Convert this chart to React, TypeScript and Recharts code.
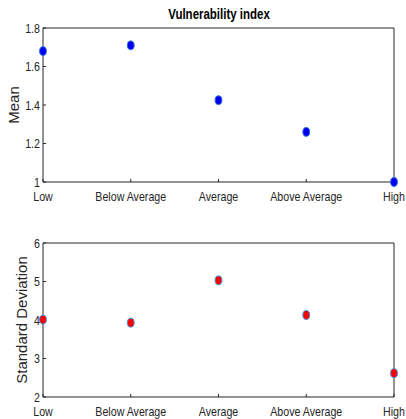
import { ScatterChart, Scatter, XAxis, YAxis } from "recharts";

const categories = ["Low", "Below Average", "Average", "Above Average", "High"];
const meanValues = [1.68, 1.71, 1.425, 1.26, 1.0];
const sdValues = [4.01, 3.93, 5.03, 4.13, 2.62];
const meanTicks = [1, 1.2, 1.4, 1.6, 1.8];
const sdTicks = [2, 3, 4, 5, 6];
const xTicks = [0, 1, 2, 3, 4];

const meanData = categories.map((c, i) => ({ x: i, y: meanValues[i], name: c }));
const sdData = categories.map((c, i) => ({ x: i, y: sdValues[i], name: c }));

const AXIS = "#262626";
const FONT = "'Liberation Sans', Arial, sans-serif";
const SQUEEZE = 0.82;

// MATLAB export looks horizontally squeezed, so narrow the text
const XTick = (p: any) => (
  <text
    transform={`translate(${p.x},${p.y + 18.5}) scale(${SQUEEZE},1)`}
    textAnchor="middle"
    fontFamily={FONT}
    fontSize={13}
    fill={AXIS}
  >
    {categories[p.payload.value]}
  </text>
);
const YTick = (p: any) => (
  <text
    transform={`translate(${p.x},${p.y + 4.5}) scale(${SQUEEZE},1)`}
    textAnchor="end"
    fontFamily={FONT}
    fontSize={13}
    fill={AXIS}
  >
    {p.payload.value}
  </text>
);

const blueDot = (p: any) => (
  <ellipse cx={p.cx} cy={p.cy} rx={3.4} ry={4.4} fill="#0000f0" stroke="#2f6fd6" strokeWidth={1} />
);
const redDot = (p: any) => (
  <ellipse cx={p.cx} cy={p.cy} rx={3.4} ry={4.4} fill="#ff0000" stroke="#3a8fe0" strokeWidth={1} />
);

function Panel({ data, ticks, domain, label, labelOffset, height, plotTop, xHeight, shape, title }: any) {
  return (
    <ScatterChart width={406} height={height} margin={{ top: plotTop, left: 0, right: 11, bottom: 0 }}>
      <XAxis
        xAxisId="b"
        type="number"
        dataKey="x"
        domain={[0, 4]}
        ticks={xTicks}
        height={xHeight}
        interval={0}
        tickSize={-3}
        tickMargin={3}
        stroke={AXIS}
        tick={XTick}
      />
      <XAxis
        xAxisId="t"
        orientation="top"
        type="number"
        dataKey="x"
        domain={[0, 4]}
        ticks={xTicks}
        height={1}
        interval={0}
        tickSize={-3}
        tick={false}
        stroke={AXIS}
      />
      <YAxis
        yAxisId="l"
        type="number"
        dataKey="y"
        domain={domain}
        ticks={ticks}
        width={43}
        interval={0}
        tickSize={-3}
        tickMargin={6}
        stroke={AXIS}
        tick={YTick}
        label={{
          value: label,
          angle: -90,
          position: "insideLeft",
          offset: labelOffset,
          style: { textAnchor: "middle", fontFamily: FONT, fontSize: 15, fill: AXIS },
        }}
      />
      <YAxis
        yAxisId="r"
        orientation="right"
        type="number"
        dataKey="y"
        domain={domain}
        ticks={ticks}
        width={1}
        interval={0}
        tickSize={-3}
        tick={false}
        stroke={AXIS}
      />
      <Scatter data={data} xAxisId="b" yAxisId="l" shape={shape} isAnimationActive={false} />
      <Scatter data={data} xAxisId="t" yAxisId="r" shape={() => null} isAnimationActive={false} />
      {title ? (
        <text
          transform={`translate(219,${plotTop - 8}) scale(${SQUEEZE},1)`}
          textAnchor="middle"
          fontFamily={FONT}
          fontSize={14}
          fontWeight="bold"
          fill="#000"
        >
          {title}
        </text>
      ) : null}
    </ScatterChart>
  );
}

export default function App() {
  return (
    <div style={{ position: "absolute", left: 0, top: 0, width: 406, height: 419, background: "#fff", overflow: "hidden" }}>
      <div style={{ position: "absolute", left: 0, top: 0 }}>
        <Panel
          data={meanData}
          ticks={meanTicks}
          domain={[1, 1.8]}
          label="Mean"
          labelOffset={14}
          height={210}
          plotTop={27}
          xHeight={28}
          shape={blueDot}
          title="Vulnerability index"
        />
      </div>
      <div style={{ position: "absolute", left: 0, top: 210 }}>
        <Panel
          data={sdData}
          ticks={sdTicks}
          domain={[2, 6]}
          label="Standard Deviation"
          labelOffset={22}
          height={209}
          plotTop={32}
          xHeight={22}
          shape={redDot}
        />
      </div>
    </div>
  );
}
